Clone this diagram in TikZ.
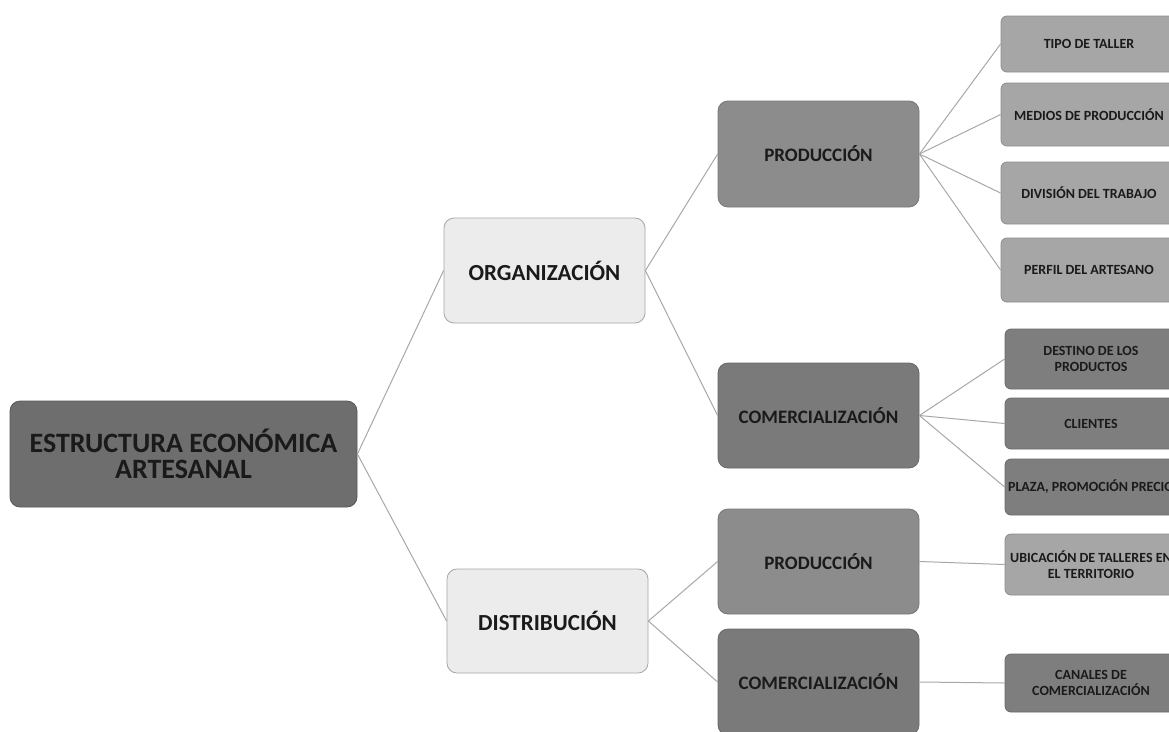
\documentclass[tikz,border=0pt]{standalone}
\usepackage{fontspec}
\setmainfont{Carlito}
\definecolor{croot}{HTML}{6E6E6E}
\definecolor{clight}{HTML}{ECECEC}
\definecolor{cprod}{HTML}{8C8C8C}
\definecolor{ccom}{HTML}{7A7A7A}
\definecolor{cleafA}{HTML}{A6A6A6}
\definecolor{cleafB}{HTML}{7E7E7E}
\definecolor{cline}{HTML}{A8A8A8}
\definecolor{ctext}{HTML}{1A1A1A}
\begin{document}
\begin{tikzpicture}[x=1pt,y=-1pt,
  base/.style={rectangle, rounded corners=10pt, line width=0.8pt, align=center, inner sep=0pt, text=ctext},
  rootbox/.style={base, fill=croot, draw=croot!80!black, minimum width=347pt, minimum height=106pt, font=\fontsize{28}{26}\selectfont\bfseries},
  lvlone/.style={base, fill=clight, draw=black!35, minimum width=201pt, minimum height=105pt, font=\fontsize{23}{26}\selectfont\bfseries},
  lvltwo/.style={base, fill=#1, draw=#1!85!black, minimum width=201pt, minimum height=105pt, font=\fontsize{19}{22}\selectfont\bfseries},
  leaf/.style={base, rounded corners=6pt, fill=#1, draw=#1!85!black, font=\fontsize{14}{16}\selectfont\bfseries},
  conn/.style={draw=cline, line width=1pt}
]
\clip (0,0) rectangle (1169,731);
\fill[white] (0,0) rectangle (1169,731);

% root and first level
\node[rootbox] (root) at (183.5,454) {ESTRUCTURA ECONÓMICA\\ARTESANAL};
\node[lvlone] (org) at (544.5,270.5) {ORGANIZACIÓN};
\node[lvlone, minimum height=104pt] (dist) at (547.5,621) {DISTRIBUCIÓN};

% second level
\node[lvltwo=cprod, minimum height=106pt] (prodA) at (818.5,154) {PRODUCCIÓN};
\node[lvltwo=ccom] (comA) at (818.5,415.5) {COMERCIALIZACIÓN};
\node[lvltwo=cprod] (prodB) at (818.5,561.5) {PRODUCCIÓN};
\node[lvltwo=ccom, minimum height=106pt] (comB) at (818.5,682) {COMERCIALIZACIÓN};

% leaves
\node[leaf=cleafA, minimum width=176pt, minimum height=56pt] (tipo) at (1089,44) {TIPO DE TALLER};
\node[leaf=cleafA, minimum width=176pt, minimum height=63pt] (medios) at (1089,114.5) {MEDIOS DE PRODUCCIÓN};
\node[leaf=cleafA, minimum width=176pt, minimum height=62pt] (division) at (1089,193) {DIVISIÓN DEL TRABAJO};
\node[leaf=cleafA, minimum width=176pt, minimum height=64pt] (perfil) at (1089,270) {PERFIL DEL ARTESANO};
\node[leaf=cleafB, minimum width=172pt, minimum height=60pt] (destino) at (1091,359) {DESTINO DE LOS\\PRODUCTOS};
\node[leaf=cleafB, minimum width=172pt, minimum height=51pt] (clientes) at (1091,423.5) {CLIENTES};
\node[leaf=cleafB, minimum width=172pt, minimum height=56pt] (plaza) at (1091,487) {\makebox[0pt][c]{PLAZA, PROMOCIÓN PRECIO}};
\node[leaf=cleafA, minimum width=172pt, minimum height=61pt] (ubicacion) at (1091,564.5) {\makebox[0pt][c]{UBICACIÓN DE TALLERES EN}\\EL TERRITORIO};
\node[leaf=cleafB, minimum width=172pt, minimum height=58pt] (canales) at (1091,683) {CANALES DE\\COMERCIALIZACIÓN};

% connectors
\begin{scope}[on background layer/.style={}]
\draw[conn] (root.east) -- (org.west);
\draw[conn] (root.east) -- (dist.west);
\draw[conn] (org.east) -- (prodA.west);
\draw[conn] (org.east) -- (comA.west);
\draw[conn] (dist.east) -- (prodB.west);
\draw[conn] (dist.east) -- (comB.west);
\draw[conn] (prodA.east) -- (tipo.west);
\draw[conn] (prodA.east) -- (medios.west);
\draw[conn] (prodA.east) -- (division.west);
\draw[conn] (prodA.east) -- (perfil.west);
\draw[conn] (comA.east) -- (destino.west);
\draw[conn] (comA.east) -- (clientes.west);
\draw[conn] (comA.east) -- (plaza.west);
\draw[conn] (prodB.east) -- (ubicacion.west);
\draw[conn] (comB.east) -- (canales.west);
\end{scope}
\end{tikzpicture}
\end{document}
